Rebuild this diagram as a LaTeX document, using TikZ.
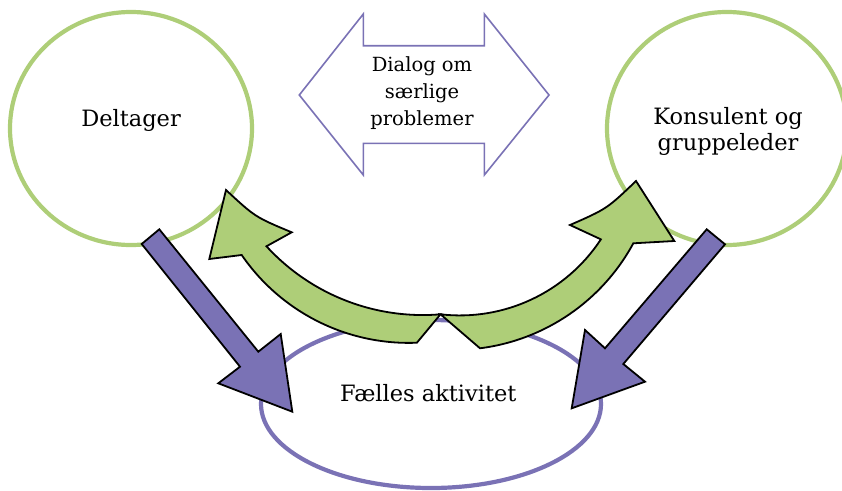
\documentclass[tikz,border=0pt]{standalone}
\usepackage{fontspec}
\setmainfont{DejaVu Serif}
\usetikzlibrary{shapes.geometric}
\definecolor{leafgreen}{HTML}{AECE78}
\definecolor{lavender}{HTML}{7A72B5}

\begin{document}
\begin{tikzpicture}[x=1pt,y=-1pt,
  greenring/.style={ellipse,draw=leafgreen,line width=4.2pt,inner sep=0pt,outer sep=0pt},
  purplering/.style={ellipse,draw=lavender,line width=4.2pt,inner sep=0pt,outer sep=0pt},
  bigtext/.style={font=\fontsize{22.5}{26}\selectfont,align=center,inner sep=0pt},
  smalltext/.style={font=\fontsize{19.5}{26.6}\selectfont,align=center,inner sep=0pt},
  blockarrow/.style={fill=lavender,draw=black,line width=1.8pt,line join=miter},
  bendarrow/.style={fill=leafgreen,draw=black,line width=1.8pt,line join=miter},
  dialogarrow/.style={fill=white,draw=lavender,line width=1.6pt,line join=miter}]
\useasboundingbox (0,0) rectangle (842,490);
\clip (0,0) rectangle (842,490);

% the three rings
\node[greenring,minimum width=242pt,minimum height=233pt] (delt) at (131,128.5) {};
\node[greenring,minimum width=240pt,minimum height=233pt] (kons) at (727,128.5) {};
\node[purplering,minimum width=340pt,minimum height=168pt] (faelles) at (431,404) {};

% two-headed arrow for the dialogue
\draw[dialogarrow] (299.3,95) -- (363.3,14) -- (363.3,45.7) -- (484.3,45.7)
  -- (484.3,14) -- (549,95) -- (484.3,175) -- (484.3,143.3)
  -- (363.3,143.3) -- (363.3,175) -- cycle;
\node[smalltext] (dialog) at (422,93.2) {Dialog om\\særlige\\problemer};

% straight arrows down to the shared activity
\draw[blockarrow] (141.7,244) -- (159.3,229.3) -- (258.3,351.7) -- (280.7,334)
  -- (292.3,411.7) -- (218.3,383.3) -- (240,366.7) -- cycle;
\draw[blockarrow] (706.7,229.3) -- (725,244.3) -- (623.3,364) -- (645,381.7)
  -- (571.7,408.3) -- (585,330) -- (605,348.3) -- cycle;

% curved arrows back up to each side
\coordinate (meet) at (440.5,314.3);
\draw[bendarrow] (meet) arc[start angle=85.2,end angle=137.5,radius=212]
  -- (291.7,232.3) .. controls (255.1,217.0) .. (226,190) -- (209.3,259)
  -- (241.7,255) arc[start angle=145.5,end angle=87.7,radius=202.7] -- cycle;
\draw[bendarrow] (meet) arc[start angle=96.6,end angle=33.3,radius=168.7]
  -- (570,225) .. controls (606.9,208.8) .. (636,181) -- (674.3,241)
  -- (633.3,243.3) arc[start angle=28.45,end angle=82.75,radius=203.6] -- cycle;

% labels
\node[bigtext,anchor=base] (tdelt) at (131,126.7) {Deltager};
\node[bigtext] (tkons) at (728,131.2) {Konsulent og\\gruppeleder};
\node[bigtext,anchor=base] (tfael) at (428.3,401.7) {Fælles aktivitet};
\end{tikzpicture}
\end{document}
